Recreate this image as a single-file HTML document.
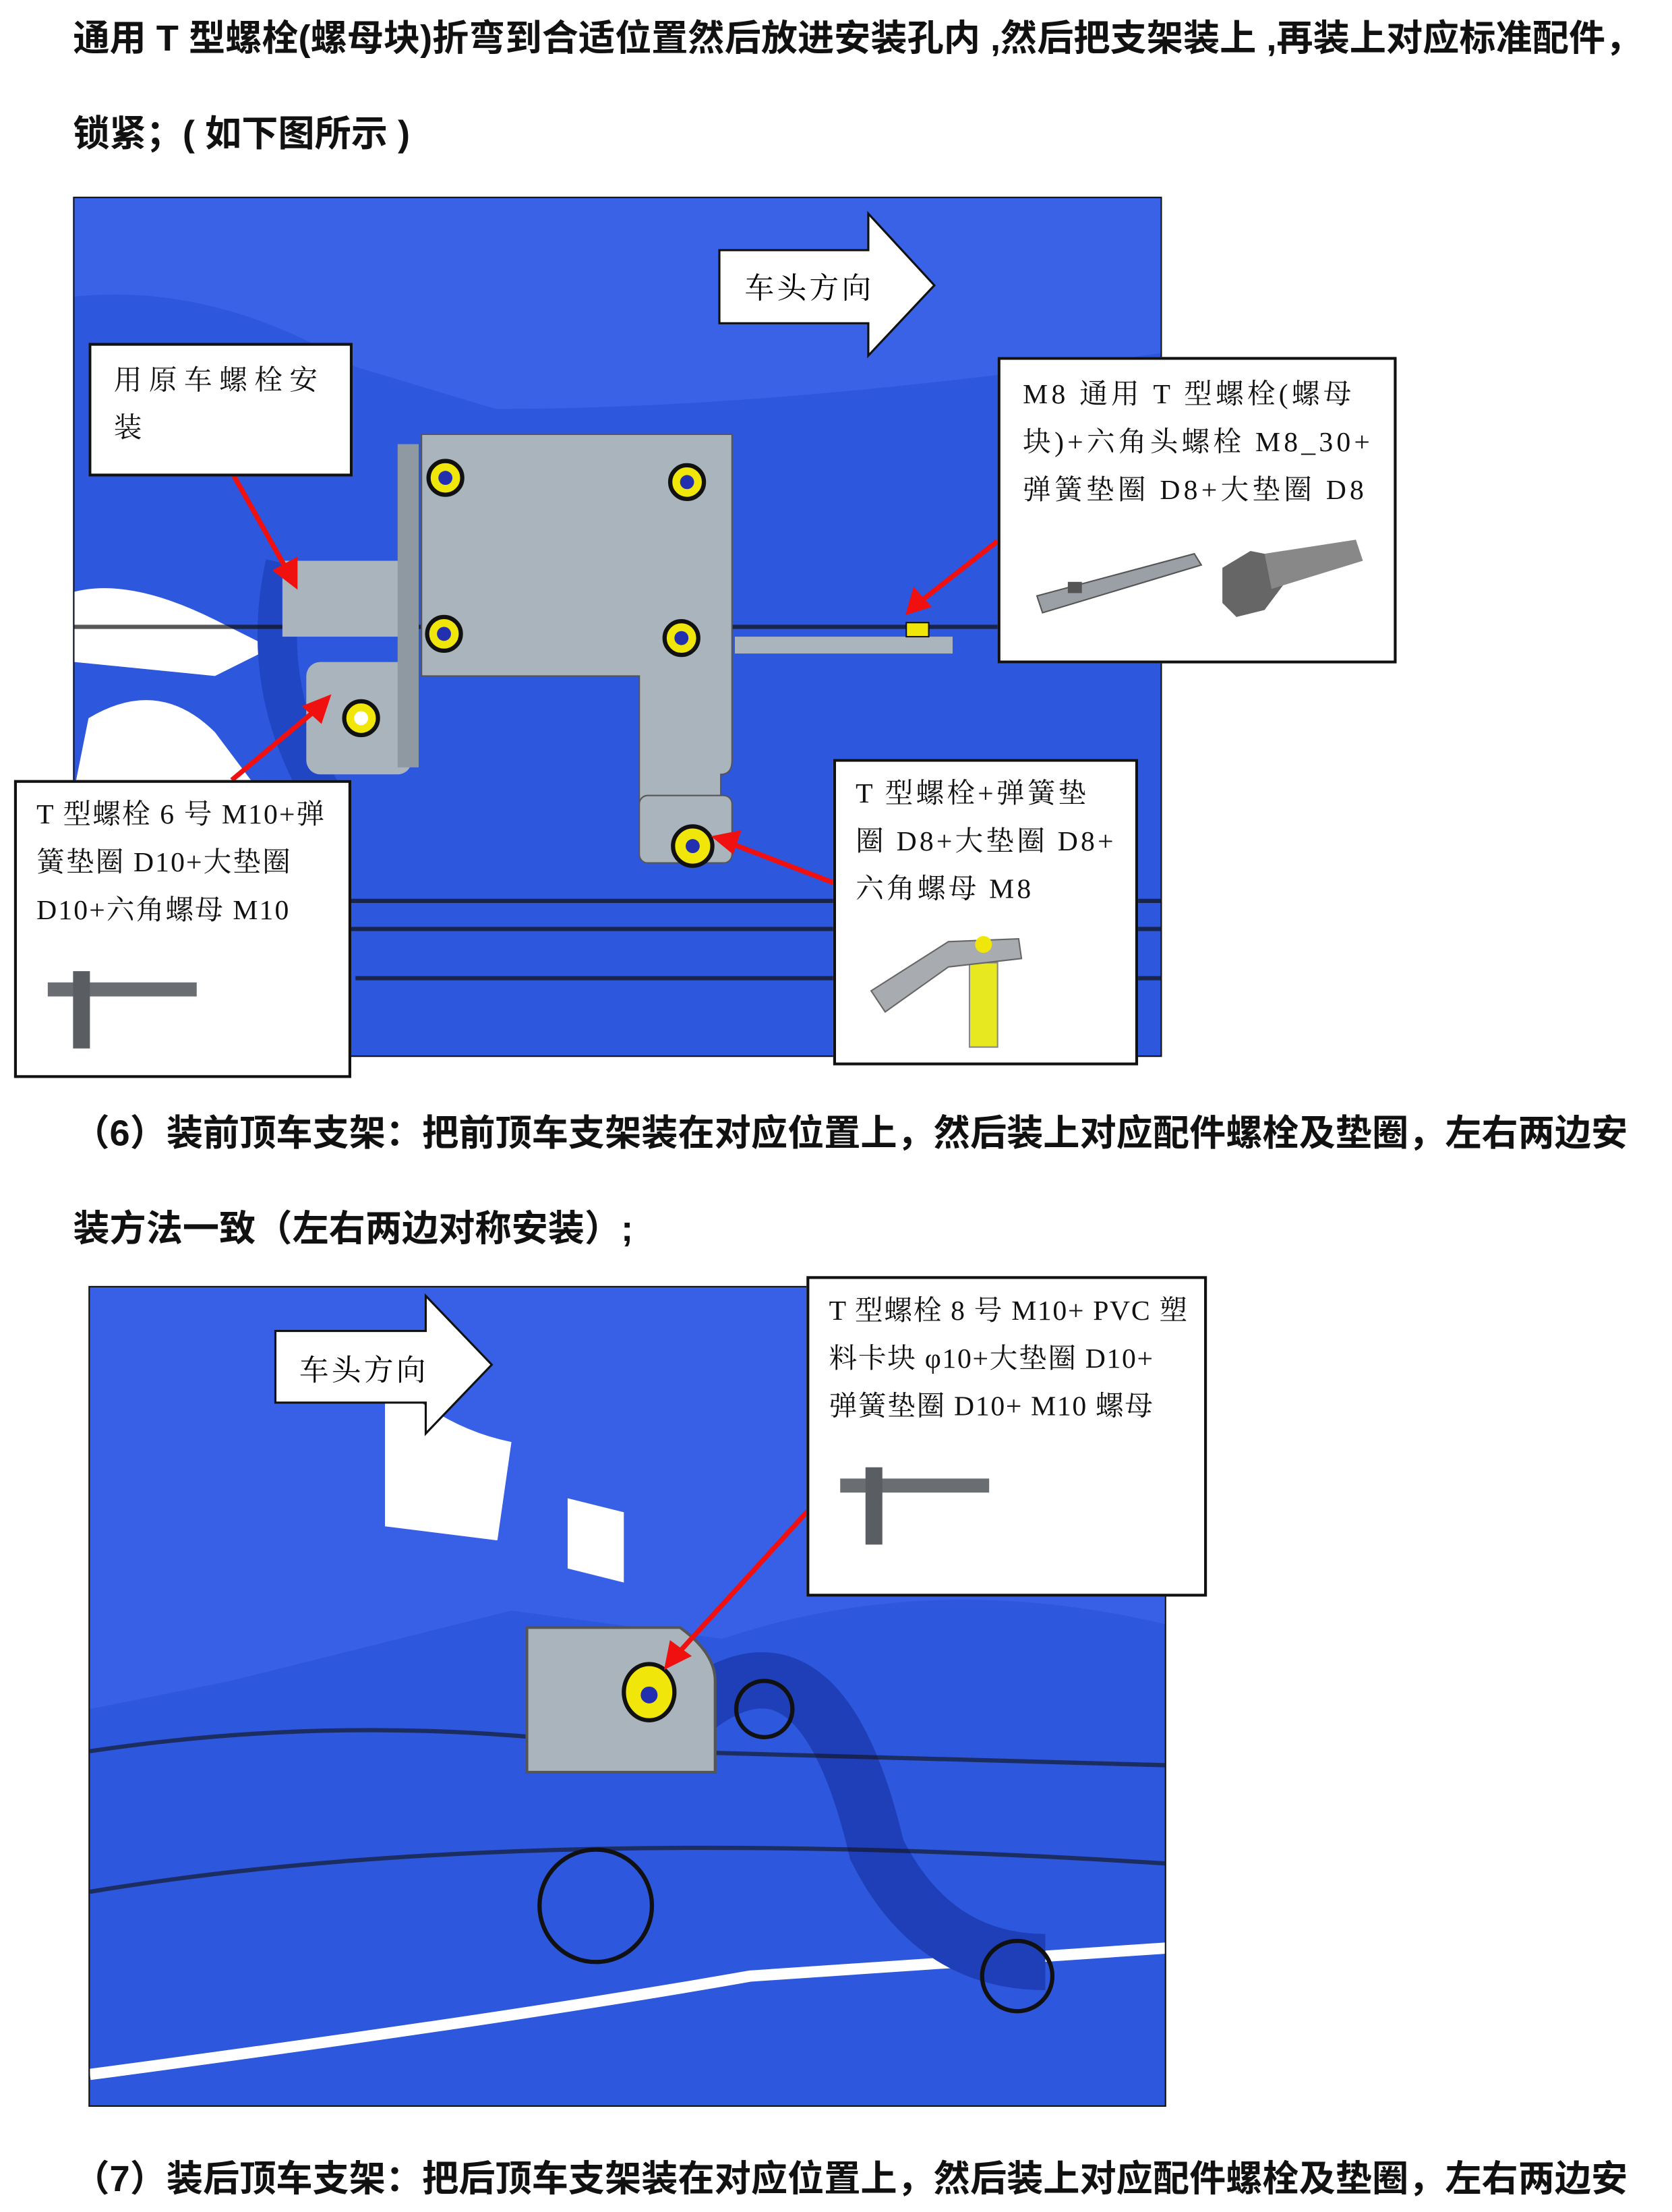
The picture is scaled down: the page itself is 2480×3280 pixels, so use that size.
<!DOCTYPE html>
<html><head><meta charset="utf-8"><style>
html,body{margin:0;padding:0;background:#fff;width:2480px;height:3279px;overflow:hidden}
#w{position:absolute;left:0;top:0;width:1190px;height:1574px;transform:scale(2.08403);transform-origin:0 0}
.t{position:absolute;font-family:"Liberation Sans","Noto Sans CJK SC",sans-serif;font-weight:bold;font-size:26px;color:#111;white-space:nowrap}
.box{position:absolute;background:#fff;border:2px solid #111;box-sizing:border-box;font-family:"Liberation Serif","Noto Serif CJK SC",serif;font-size:20px;line-height:34px;color:#111;padding:6px 14px;letter-spacing:2.5px;white-space:nowrap}
.img{position:absolute;background:#2d57dc;border:1.5px solid #111;box-sizing:border-box;overflow:hidden}
svg{position:absolute;left:0;top:0}
</style></head><body><div id="w">
<div class="t" style="left:52px;top:7px">通用 T 型螺栓(螺母块)折弯到合适位置然后放进安装孔内 ,然后把支架装上 ,再装上对应标准配件，</div>
<div class="t" style="left:52px;top:75px">锁紧；( 如下图所示 )</div>

<div class="img" style="left:52px;top:140px;width:775px;height:612px">
<svg width="775" height="612">
<path d="M0 0 H775 V110 Q500 150 300 150 L200 120 Q100 60 0 70Z" fill="#3a62e6"/>
<path d="M0 280 Q40 270 100 300 L140 320 L100 340 L0 330Z" fill="#fff"/>
<path d="M10 370 Q60 340 100 380 L130 420 L60 430 L0 420Z" fill="#fff"/>
<path d="M150 260 Q130 350 180 430" stroke="#2146c4" stroke-width="28" fill="none"/>
<path d="M0 500 H775 M0 520 H775 M200 555 H775 M0 305 H775" stroke="#111" stroke-width="3" opacity="0.7"/>
<rect x="148" y="258" width="90" height="54" fill="#a9b4bd"/>
<rect x="165" y="330" width="75" height="80" rx="10" fill="#a9b4bd"/>
<rect x="230" y="175" width="15" height="230" fill="#8e99a2"/>
<path d="M247 168 H468 V400 Q468 410 460 410 L460 445 H402 V340 H247Z" fill="#a9b4bd" stroke="#555"/>
<rect x="402" y="425" width="66" height="48" rx="6" fill="#a9b4bd" stroke="#555"/>
<rect x="470" y="312" width="155" height="12" fill="#a9b4bd"/>
<g fill="#f0e60a" stroke="#111" stroke-width="3"><circle cx="264" cy="199" r="12"/><circle cx="436" cy="202" r="12"/><circle cx="263" cy="310" r="12"/><circle cx="432" cy="313" r="12"/><circle cx="204" cy="370" r="12"/><circle cx="440" cy="461" r="14"/></g>
<g fill="#2230b0"><circle cx="264" cy="199" r="5"/><circle cx="436" cy="202" r="5"/><circle cx="263" cy="310" r="5"/><circle cx="432" cy="313" r="5"/><circle cx="204" cy="370" r="5" fill="#fff"/><circle cx="440" cy="461" r="5"/></g>
<rect x="592" y="302" width="16" height="10" fill="#f0e60a" stroke="#111"/>
</svg></div>

<div class="img" style="left:63px;top:915px;width:767px;height:584px">
<svg width="767" height="584">
<path d="M0 0 H767 V240 Q600 200 450 250 L300 230 L100 280 L0 300Z" fill="#3760e6"/>
<path d="M210 60 Q250 100 300 110 L290 180 L210 170Z" fill="#fff"/>
<path d="M340 150 L380 160 L380 210 L340 200Z" fill="#fff"/>
<path d="M0 560 Q300 520 470 490 L767 470" stroke="#fff" stroke-width="8" fill="none"/>
<path d="M430 300 Q520 230 560 400 Q600 480 680 480" stroke="#1e3fb8" stroke-width="40" fill="none"/>
<path d="M0 330 Q200 300 400 330 L767 340 M0 430 Q300 380 767 410" stroke="#111" stroke-width="3" fill="none" opacity="0.6"/>
<circle cx="360" cy="440" r="40" fill="none" stroke="#111" stroke-width="3"/>
<circle cx="660" cy="490" r="25" fill="none" stroke="#111" stroke-width="3"/>
<circle cx="480" cy="300" r="20" fill="none" stroke="#111" stroke-width="3"/>
<path d="M311 242 H420 Q445 260 445 280 V345 H311Z" fill="#a9b4bd" stroke="#555" stroke-width="2"/>
<ellipse cx="398" cy="288" rx="18" ry="20" fill="#f0e60a" stroke="#111" stroke-width="3"/>
<circle cx="398" cy="290" r="6" fill="#2230b0"/>
</svg></div>

<svg width="1190" height="1574">
<polygon points="512,178 618,178 618,152 665,203 618,253 618,230 512,230" fill="#fff" stroke="#111" stroke-width="1.5"/>
<polygon points="196,947 303,947 303,922 350,971 303,1020 303,998 196,998" fill="#fff" stroke="#111" stroke-width="1.5"/>
<g stroke="#f01010" stroke-width="3.5" fill="#f01010">
<line x1="165" y1="336" x2="205" y2="407"/><polygon points="210,416 197,406 210,399"/>
<line x1="165" y1="555" x2="225" y2="505"/><polygon points="233,497 228,512 218,503"/>
<line x1="593" y1="628" x2="520" y2="600"/><polygon points="510,596 525,593 521,605"/>
<line x1="710" y1="385" x2="655" y2="428"/><polygon points="647,435 651,421 660,431"/>
<line x1="575" y1="1075" x2="482" y2="1177"/><polygon points="475,1185 478,1170 489,1178"/>
</g>
</svg>
<div style="position:absolute;left:530px;top:189px;font-family:'Liberation Serif','Noto Serif CJK SC',serif;font-size:21px;letter-spacing:2px">车头方向</div>
<div style="position:absolute;left:213px;top:959px;font-family:'Liberation Serif','Noto Serif CJK SC',serif;font-size:21px;letter-spacing:2px">车头方向</div>

<div class="box" style="left:63px;top:244px;width:188px;height:95px;letter-spacing:5px;padding:8px 16px">用原车螺栓安<br>装</div>
<div class="box" style="left:710px;top:254px;width:284px;height:218px;padding:8px 16px">M8 通用 T 型螺栓(螺母<br>块)+六角头螺栓 M8_30+<br>弹簧垫圈 D8+大垫圈 D8
<svg width="250" height="80" style="left:18px;top:118px"><polygon points="8,50 120,20 125,28 12,62" fill="#9aa0a6" stroke="#555"/><rect x="30" y="40" width="10" height="8" fill="#555"/><polygon points="140,30 160,18 180,22 185,40 170,60 150,65 140,55" fill="#666"/><polygon points="170,20 235,10 240,25 175,45" fill="#888"/></svg></div>
<div class="box" style="left:10px;top:555px;width:240px;height:212px;letter-spacing:1px">T 型螺栓 6 号 M10+弹<br>簧垫圈 D10+大垫圈<br>D10+六角螺母 M10
<svg width="120" height="70" style="left:20px;top:128px"><rect x="2" y="14" width="106" height="10" fill="#6a6e72"/><rect x="20" y="6" width="12" height="55" fill="#5a5e62"/></svg></div>
<div class="box" style="left:593px;top:540px;width:217px;height:218px;letter-spacing:2px">T 型螺栓+弹簧垫<br>圈 D8+大垫圈 D8+<br>六角螺母 M8
<svg width="120" height="90" style="left:20px;top:118px"><rect x="75" y="25" width="20" height="60" fill="#e8e820" stroke="#888"/><polygon points="5,45 60,10 110,8 112,22 60,28 15,60" fill="#a8acb0" stroke="#666"/><circle cx="85" cy="12" r="6" fill="#f0e60a"/></svg></div>
<div class="box" style="left:574px;top:908px;width:285px;height:228px;letter-spacing:0.8px">T 型螺栓 8 号 M10+ PVC 塑<br>料卡块 φ10+大垫圈 D10+<br>弹簧垫圈 D10+ M10 螺母
<svg width="120" height="70" style="left:20px;top:128px"><rect x="2" y="14" width="106" height="10" fill="#6a6e72"/><rect x="20" y="6" width="12" height="55" fill="#5a5e62"/></svg></div>

<div class="t" style="left:52px;top:786px">（6）装前顶车支架：把前顶车支架装在对应位置上，然后装上对应配件螺栓及垫圈，左右两边安</div>
<div class="t" style="left:52px;top:854px">装方法一致（左右两边对称安装）;</div>
<div class="t" style="left:52px;top:1530px">（7）装后顶车支架：把后顶车支架装在对应位置上，然后装上对应配件螺栓及垫圈，左右两边安</div>
</div></body></html>
